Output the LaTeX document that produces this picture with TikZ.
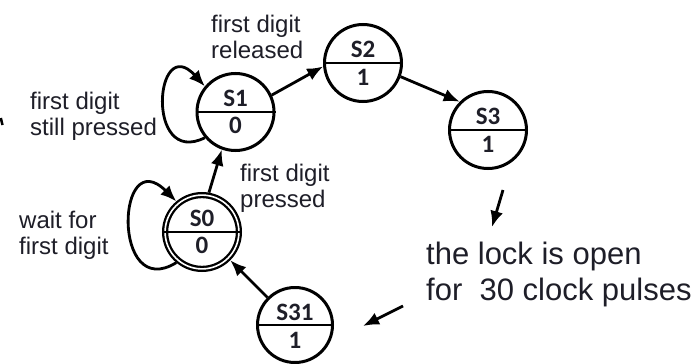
\documentclass[tikz,border=0pt]{standalone}
\usepackage{fontspec}
\setmainfont{Liberation Sans}
\newfontfamily\statefont{Carlito}
\usetikzlibrary{arrows.meta}
\definecolor{ink}{HTML}{1E1E28}
\begin{document}
\begin{tikzpicture}[x=1pt,y=-1pt,
  statebox/.style={circle,draw=black,line width=3pt,minimum size=77pt,inner sep=0pt},
  startbox/.style={circle,draw=black,line width=2.3pt,double,double distance=1.6pt,minimum size=73.8pt,inner sep=0pt,outer sep=3.1pt},
  stxt/.style={font=\statefont\bfseries\fontsize{25}{25}\selectfont,text=ink,inner sep=0pt},
  lbl/.style={font=\fontsize{24}{26}\selectfont,text=ink,align=left,inner sep=0pt,anchor=north west},
  bigtxt/.style={font=\fontsize{31}{35.5}\selectfont,text=ink,align=left,inner sep=0pt,anchor=north west},
  tr/.style={line width=2.8pt,-{Latex[length=16pt,width=13pt]}},
  divline/.style={line width=2.8pt}]
\useasboundingbox (0,0) rectangle (699,364);
\fill[white] (0,0) rectangle (699,364);

% states
\node[statebox] (s1) at (235.5,112) {};
\draw[divline] (s1.west) -- (s1.east);
\node[stxt] (s1n) at (235.5,98.5) {S1};
\node[stxt] (s1o) at (235.5,125) {0};

\node[statebox] (s2) at (363,63) {};
\draw[divline] (s2.west) -- (s2.east);
\node[stxt] (s2n) at (363,49) {S2};
\node[stxt] (s2o) at (363,77) {1};

\node[statebox] (s3) at (488,130) {};
\draw[divline] (s3.west) -- (s3.east);
\node[stxt] (s3n) at (488,116) {S3};
\node[stxt] (s3o) at (488,144) {1};

\node[startbox] (s0) at (202,232) {};
\draw[divline] (s0.west) -- (s0.east);
\node[stxt] (s0n) at (202,218) {S0};
\node[stxt] (s0o) at (202,245) {0};

\node[statebox,minimum size=75pt] (s31) at (295,325) {};
\draw[divline] (s31.west) -- (s31.east);
\node[stxt] (s31n) at (295,312) {S31};
\node[stxt] (s31o) at (295,340) {1};

% transitions
\draw[tr] (s0.80) -- (s1.250);
\draw[tr] (s1.25) -- (s2.185);
\draw[tr] (s2.340) -- (s3.135);
\draw[tr] (s31.135) -- (s0.315);
\draw[tr] (s1.220) .. controls +(-60,30) and +(-50,-55) .. (s1.140);
\draw[tr] (s0.230) .. controls +(-65,40) and +(-60,-60) .. (s0.130);

% free arrows
\coordinate (p1) at (503,190);
\coordinate (p2) at (492,227);
\draw[tr] (p1) -- (p2);
\coordinate (q1) at (403,306);
\coordinate (q2) at (363,326);
\draw[tr] (q1) -- (q2);

% stray mark at left edge
\draw[line width=2.5pt] (0.8,118) -- (2.5,125);

% labels
\node[lbl] (lrel) at (211,15) {first digit\\released};
\node[lbl] (lstill) at (30,92) {first digit\\still pressed};
\node[lbl] (lpress) at (240,164) {first digit\\pressed};
\node[lbl] (lwait) at (19,211) {wait for\\first digit};
\node[bigtxt] (lock) at (426,242) {the lock is open\\for\ \ 30 clock pulses};
\end{tikzpicture}
\end{document}
